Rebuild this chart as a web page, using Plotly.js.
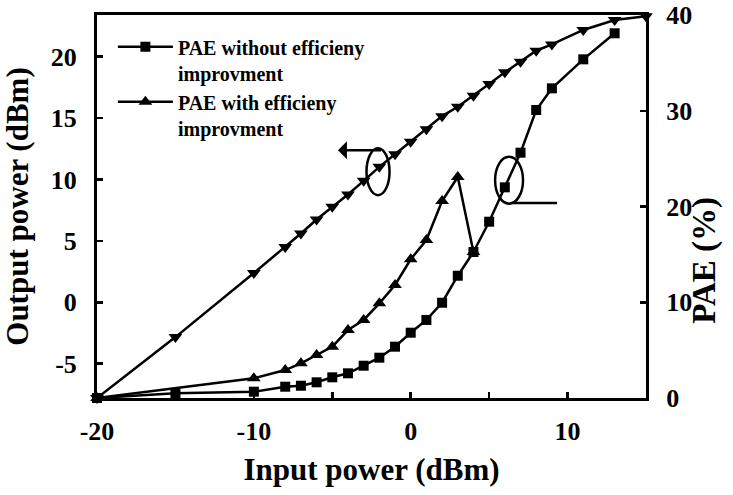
<!DOCTYPE html>
<html>
<head>
<meta charset="utf-8">
<script src="https://cdn.plot.ly/plotly-3.0.1.min.js"></script>
<style>html,body{margin:0;padding:0;background:#fff;}#chart{width:733px;height:495px;}</style>
</head>
<body>
<div id="chart"></div>
<script>
// Input power (dBm) for the output power curve
const inputPower = [-20, -15, -10, -8, -7, -6, -5, -4, -3, -2, -1, 0, 1, 2, 3, 4, 5, 6, 7, 8, 9, 11, 13, 15];
const outputPower = [-7.8, -2.84, 2.38, 4.5, 5.6, 6.74, 7.77, 8.78, 9.89, 11.03, 12.06, 13.07, 14.1, 15.16, 15.92, 16.82, 17.77, 18.73, 19.59, 20.49, 21.0, 22.18, 22.99, 23.3];

// PAE without efficiency improvement
const inputPaeWithout = [-20, -15, -10, -8, -7, -6, -5, -4, -3, -2, -1, 0, 1, 2, 3, 4, 5, 6, 7, 8, 9, 11, 13];
const paeWithout = [0, 0.49, 0.66, 1.18, 1.28, 1.64, 2.16, 2.58, 3.37, 4.21, 5.36, 6.82, 8.15, 9.95, 12.77, 15.25, 18.41, 22.0, 25.62, 30.08, 32.34, 35.37, 38.09];

// PAE with efficiency improvement
const inputPaeWith = [-20, -10, -8, -7, -6, -5, -4, -3, -2, -1, 0, 1, 2, 3, 4];
const paeWith = [0, 2.06, 2.92, 3.62, 4.49, 5.36, 7.1, 8.15, 9.89, 11.8, 14.49, 16.5, 20.57, 23.08, 15.25];

// Tick labels
const xTickVals = [-20, -15, -10, -5, 0, 5, 10, 15];
const xTickText = ['-20', '', '-10', '', '0', '', '10', ''];
const yTickVals = [-5, 0, 5, 10, 15, 20];
const yTickText = ['-5', '0', '5', '10', '15', '20'];
const y2TickVals = [0, 10, 20, 30, 40];
const y2TickText = ['0', '10', '20', '30', '40'];

const seriesNames = ['<b>PAE without efficieny<br>improvment</b>', '<b>PAE with efficieny<br>improvment</b>'];

const FONT = 'Liberation Serif, Times New Roman, serif';
const black = '#000';

const traces = [
  {
    x: inputPower, y: outputPower, type: 'scatter', mode: 'lines+markers',
    line: {color: black, width: 2.5},
    marker: {symbol: 'triangle-down', size: 12, color: black},
    showlegend: false, cliponaxis: false, yaxis: 'y'
  },
  {
    x: inputPaeWith, y: paeWith, type: 'scatter', mode: 'lines+markers',
    name: seriesNames[1], legendrank: 2,
    line: {color: black, width: 2.5},
    marker: {symbol: 'triangle-up', size: 12, color: black},
    cliponaxis: false, yaxis: 'y2'
  },
  {
    x: inputPaeWithout, y: paeWithout, type: 'scatter', mode: 'lines+markers',
    name: seriesNames[0], legendrank: 1,
    line: {color: black, width: 2.5},
    marker: {symbol: 'square', size: 10, color: black},
    cliponaxis: false, yaxis: 'y2'
  }
];

const layout = {
  width: 733, height: 495,
  margin: {l: 97, r: 87, t: 15, b: 97},
  paper_bgcolor: '#fff', plot_bgcolor: '#fff',
  font: {family: FONT, color: black, weight: 'bold'},
  showlegend: true,
  legend: {
    x: 0.029, y: 0.968, xanchor: 'left', yanchor: 'top',
    bgcolor: 'rgba(0,0,0,0)', borderwidth: 0,
    font: {family: FONT, size: 20, color: black, weight: 'bold'},
    valign: 'top', itemwidth: 55, tracegroupgap: 0
  },
  xaxis: {
    range: [-20, 15], tickvals: xTickVals, ticktext: xTickText,
    ticks: 'inside', ticklen: 6, tickwidth: 2.5, tickcolor: black,
    showline: true, linewidth: 3, linecolor: black, mirror: true,
    showgrid: false, zeroline: false,
    tickfont: {family: FONT, size: 26, color: black, weight: 'bold'},
    ticklabelstandoff: 8,
    title: {text: 'Input power (dBm)', font: {family: FONT, size: 31, color: black, weight: 'bold'}, standoff: 14},
    automargin: false
  },
  yaxis: {
    range: [-7.8, 23.4], tickvals: yTickVals, ticktext: yTickText,
    ticks: 'inside', ticklen: 6, tickwidth: 2.5, tickcolor: black,
    showline: true, linewidth: 3, linecolor: black,
    showgrid: false, zeroline: false,
    tickfont: {family: FONT, size: 26, color: black, weight: 'bold'},
    ticklabelstandoff: 12,
    title: {text: 'Output power (dBm)', font: {family: FONT, size: 31, color: black, weight: 'bold'}, standoff: 13},
    automargin: false
  },
  yaxis2: {
    range: [0, 40], tickvals: y2TickVals, ticktext: y2TickText,
    overlaying: 'y', side: 'right',
    ticks: 'inside', ticklen: 6, tickwidth: 2.5, tickcolor: black,
    showline: true, linewidth: 3, linecolor: black,
    showgrid: false, zeroline: false,
    tickfont: {family: FONT, size: 26, color: black, weight: 'bold'},
    ticklabelstandoff: 12,
    automargin: false
  },
  shapes: [
    {type: 'circle', xref: 'x', yref: 'y', x0: -2.82, x1: -1.35, y0: 8.72, y1: 12.55,
     line: {color: black, width: 2.5}},
    {type: 'circle', xref: 'x', yref: 'y2', x0: 5.38, x1: 7.16, y0: 20.3, y1: 25.2,
     line: {color: black, width: 2.5}},
    {type: 'line', xref: 'x', yref: 'y2', x0: 6.52, x1: 9.33, y0: 20.37, y1: 20.37,
     line: {color: black, width: 2.5}}
  ],
  annotations: [
    {x: -4.64, y: 12.39, xref: 'x', yref: 'y', ax: -1.8, ay: 12.39, axref: 'x', ayref: 'y',
     showarrow: true, arrowhead: 1, arrowsize: 1.2, arrowwidth: 2.5, arrowcolor: black, text: ''},
    {x: 1.105, y: 0.36, xref: 'paper', yref: 'paper', xanchor: 'center', yanchor: 'middle',
     text: 'PAE (%)', textangle: -90,
     showarrow: false, font: {family: FONT, size: 33, color: black, weight: 'bold'}}
  ]
};

Plotly.newPlot('chart', traces, layout, {displayModeBar: false, staticPlot: true});
</script>
</body>
</html>
